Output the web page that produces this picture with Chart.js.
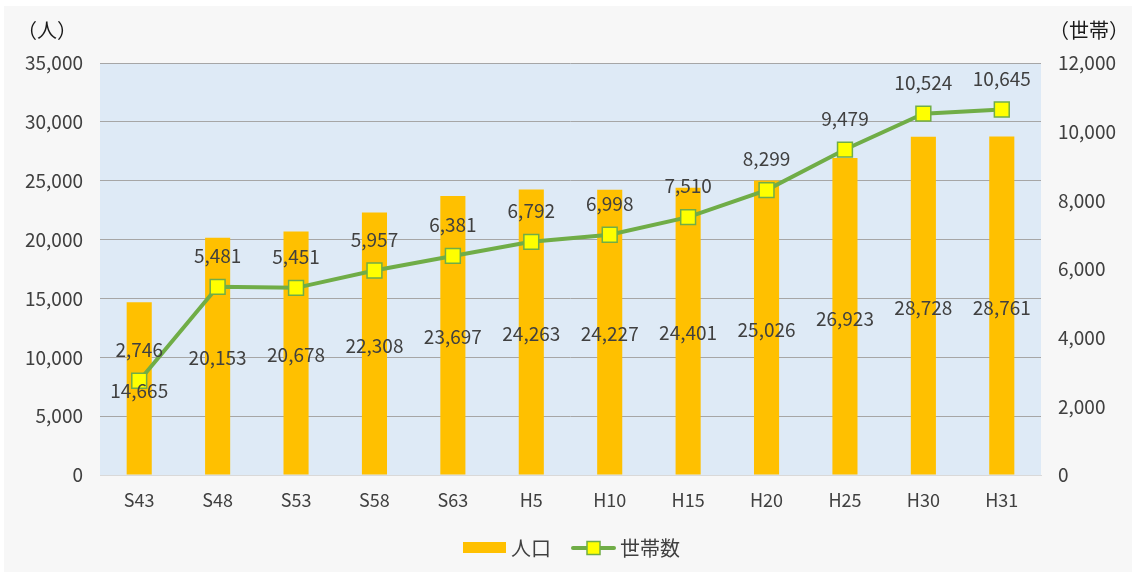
<!DOCTYPE html>
<html>
<head>
<meta charset="utf-8">
<script src="https://cdn.jsdelivr.net/npm/chart.js@4"></script>
<style>
  html, body { margin: 0; padding: 0; background: #ffffff; }
  #wrap { width: 1132px; height: 576px; }
</style>
</head>
<body>
<div id="wrap"><canvas id="popChart" width="1132" height="576"></canvas></div>
<script>
const years = ['S43', 'S48', 'S53', 'S58', 'S63', 'H5', 'H10', 'H15', 'H20', 'H25', 'H30', 'H31'];
const population = [14665, 20153, 20678, 22308, 23697, 24263, 24227, 24401, 25026, 26923, 28728, 28761];
const households = [2746, 5481, 5451, 5957, 6381, 6792, 6998, 7510, 8299, 9479, 10524, 10645];

const FONT = '"Noto Sans CJK JP", "Noto Sans", sans-serif';
const TEXT = '#404040';
const fmt = v => v.toLocaleString('en-US');

// background, plot fill, unit captions, legend
const decor = {
    id: 'decor',
    beforeDraw(chart) {
        const { ctx, chartArea: a } = chart;
        ctx.save();
        ctx.fillStyle = '#f7f7f7';
        ctx.fillRect(4, 6, chart.width - 4, chart.height - 10);
        ctx.fillStyle = '#deeaf6';
        ctx.fillRect(a.left, a.top, a.right - a.left, a.bottom - a.top);
        ctx.restore();
    },
    afterDraw(chart) {
        const { ctx } = chart;
        ctx.save();
        ctx.font = '20px ' + FONT;
        ctx.fillStyle = '#1a1a1a';
        ctx.textBaseline = 'middle';
        ctx.textAlign = 'left';
        ctx.fillText('（人）', 17, 30);
        ctx.fillText('（世帯）', 1049, 30);

        // legend
        const ly = 548;
        ctx.fillStyle = '#ffc000';
        ctx.fillRect(463, ly - 6, 43, 11);
        ctx.font = '20px ' + FONT;
        ctx.fillStyle = TEXT;
        ctx.fillText('人口', 511, ly);
        ctx.strokeStyle = '#70ad47';
        ctx.lineWidth = 4;
        ctx.lineCap = 'round';
        ctx.beginPath();
        ctx.moveTo(573, ly);
        ctx.lineTo(614, ly);
        ctx.stroke();
        ctx.fillStyle = '#ffff00';
        ctx.lineWidth = 1.5;
        ctx.fillRect(587, ly - 6.5, 13, 13);
        ctx.strokeRect(587, ly - 6.5, 13, 13);
        ctx.fillStyle = TEXT;
        ctx.fillText('世帯数', 620, ly);
        ctx.restore();
    }
};

// value labels on the marks
const valueLabels = {
    id: 'valueLabels',
    afterDatasetsDraw(chart) {
        const { ctx } = chart;
        ctx.save();
        ctx.font = '19px ' + FONT;
        ctx.fillStyle = TEXT;
        ctx.textAlign = 'center';
        ctx.textBaseline = 'middle';
        chart.data.datasets.forEach((ds, i) => {
            const meta = chart.getDatasetMeta(i);
            meta.data.forEach((el, j) => {
                const v = ds.data[j];
                if (ds.type === 'bar') {
                    ctx.fillText(fmt(v), el.x, (el.y + el.base) / 2 + 2);
                } else {
                    ctx.fillText(fmt(v), el.x, el.y - 31);
                }
            });
        });
        ctx.restore();
    }
};

new Chart(document.getElementById('popChart'), {
    data: {
        labels: years,
        datasets: [
            {
                type: 'line',
                label: '世帯数',
                data: households,
                yAxisID: 'y1',
                borderColor: '#70ad47',
                borderWidth: 4,
                pointStyle: 'rect',
                pointRadius: 10.5,
                pointBackgroundColor: '#ffff00',
                pointBorderColor: '#70ad47',
                pointBorderWidth: 1.5,
                tension: 0,
                order: 1
            },
            {
                type: 'bar',
                label: '人口',
                data: population,
                yAxisID: 'y',
                backgroundColor: '#ffc000',
                barPercentage: 0.32,
                categoryPercentage: 1,
                order: 2
            }
        ]
    },
    options: {
        responsive: false,
        animation: false,
        layout: { padding: { top: 63, left: 0, right: 0, bottom: 0 } },
        plugins: {
            legend: { display: false },
            tooltip: { enabled: false }
        },
        scales: {
            x: {
                grid: { display: false, drawTicks: false },
                border: { color: '#d9d9d9', width: 1 },
                ticks: { color: TEXT, font: { family: FONT, size: 18 }, padding: 14 },
                afterFit: s => { s.height = 101; }
            },
            y: {
                position: 'left',
                min: 0,
                max: 35000,
                ticks: { stepSize: 5000, color: TEXT, font: { family: FONT, size: 19 }, padding: 17, callback: v => fmt(v) },
                grid: { color: '#a6a6a6', drawTicks: false },
                border: { display: false },
                afterFit: s => { s.width = 100; }
            },
            y1: {
                position: 'right',
                min: 0,
                max: 12000,
                ticks: { stepSize: 2000, color: TEXT, font: { family: FONT, size: 19 }, padding: 17, callback: v => fmt(v) },
                grid: { display: false, drawTicks: false },
                border: { display: false },
                afterFit: s => { s.width = 91; }
            }
        }
    },
    plugins: [decor, valueLabels]
});
</script>
</body>
</html>
